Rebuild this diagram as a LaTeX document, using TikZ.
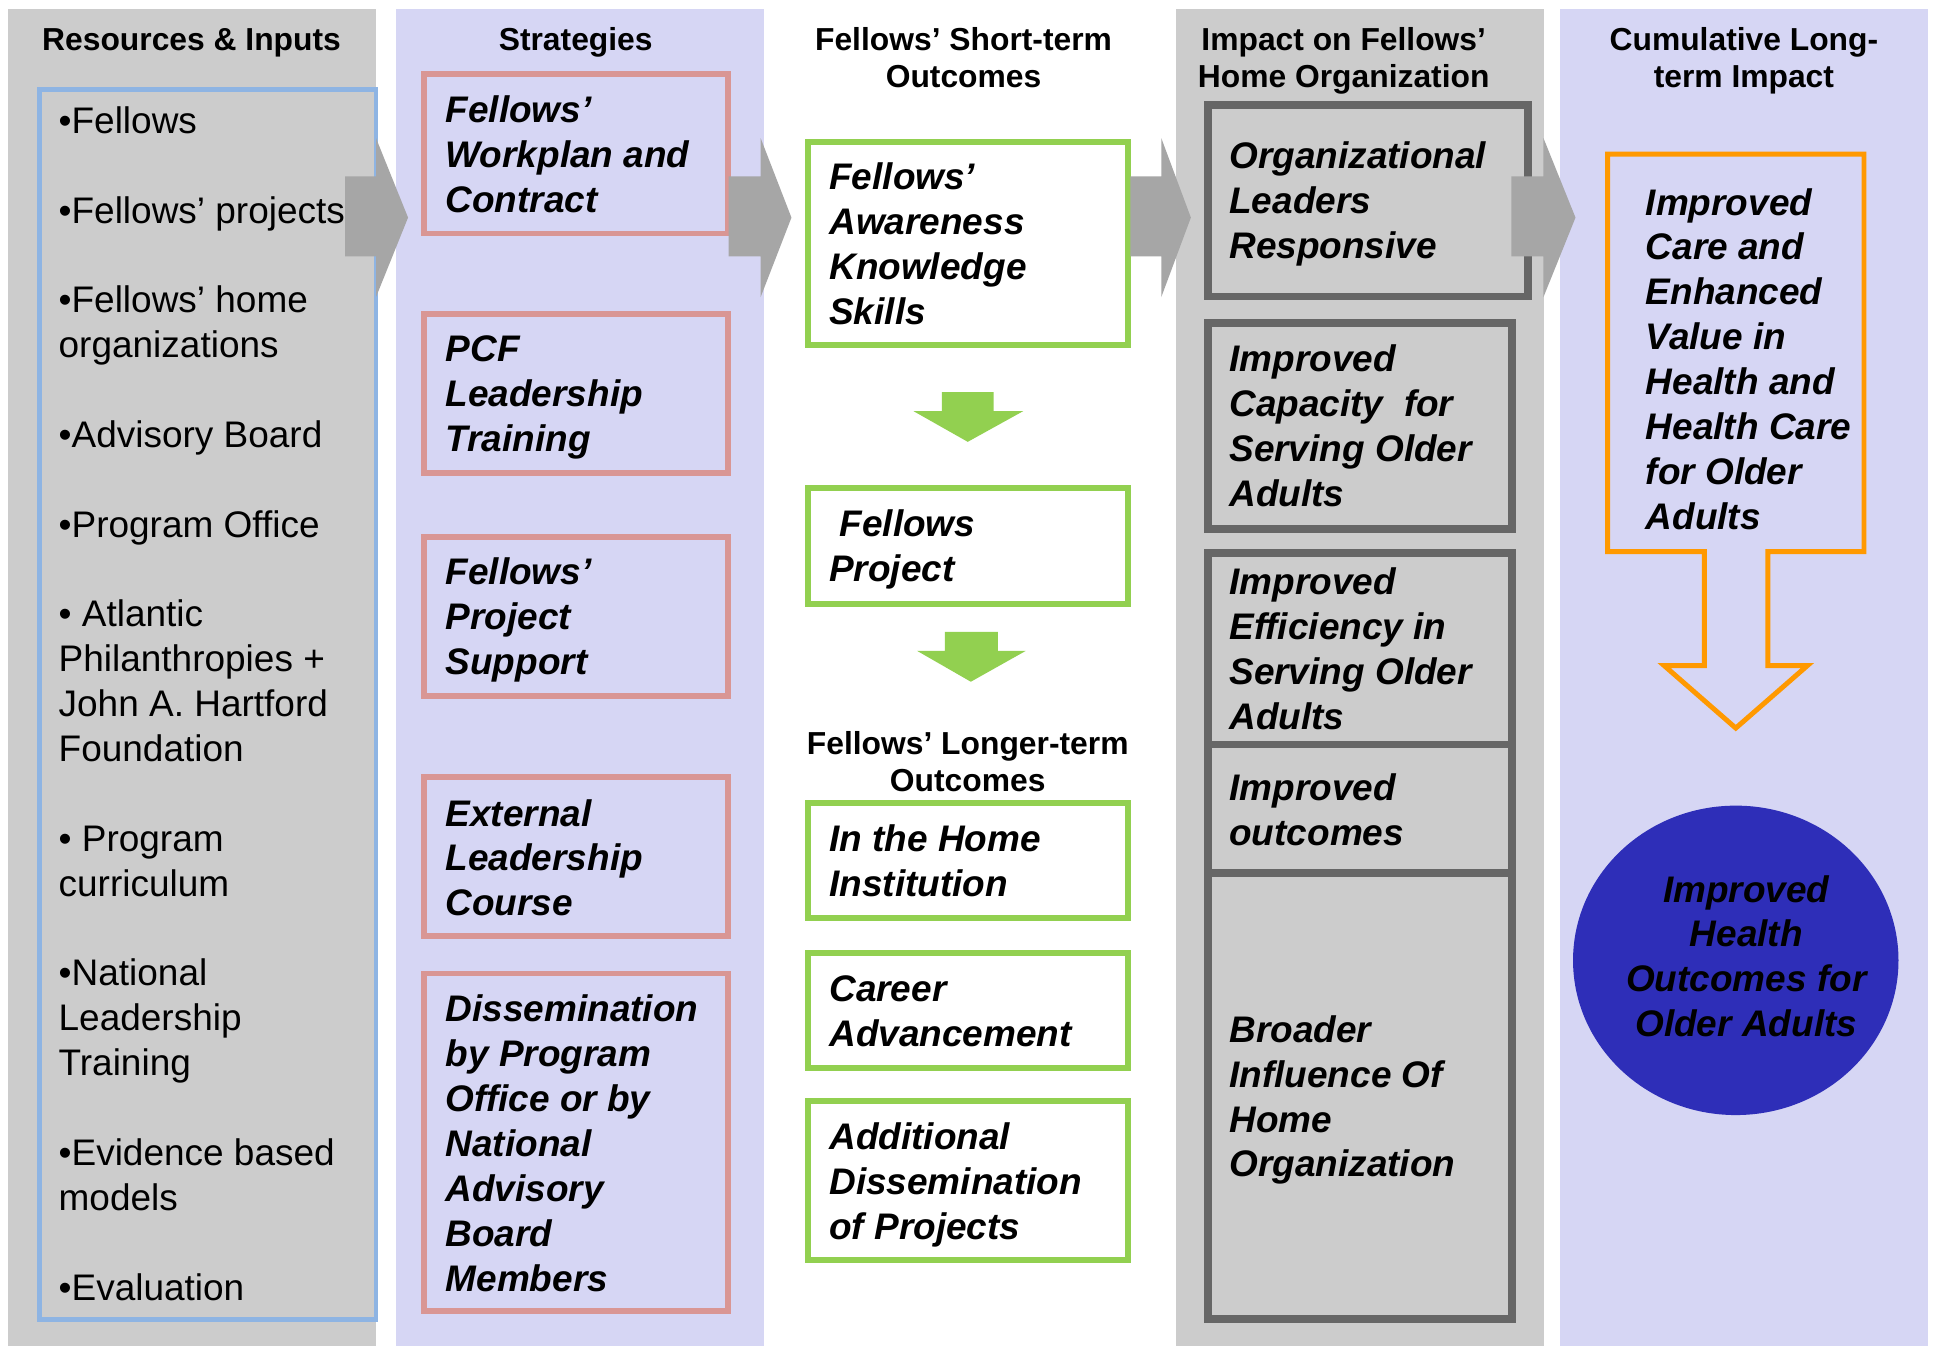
\documentclass[tikz,border=0pt]{standalone}
\usepackage{fontspec}
\setmainfont{Liberation Sans}
\usetikzlibrary{shapes.geometric}
\definecolor{bggray}{RGB}{204,204,204}
\definecolor{lav}{RGB}{214,214,244}
\definecolor{arrgray}{RGB}{166,166,166}
\definecolor{bluebox}{RGB}{142,180,227}
\definecolor{pinkbox}{RGB}{217,150,148}
\definecolor{greenbox}{RGB}{146,208,80}
\definecolor{darkbox}{RGB}{102,102,102}
\definecolor{orangebox}{RGB}{255,153,0}
\definecolor{ellblue}{RGB}{46,46,184}
\newcommand\lefttext[1]{\parbox[t]{500pt}{\raggedright #1}}
\newcommand\centertext[1]{\parbox[t]{500pt}{\centering #1}}
\tikzset{
  colbg/.style={draw=none, inner sep=0pt, outer sep=0pt, anchor=north west},
  frame/.style={inner sep=0pt, outer sep=0pt, anchor=north west},
  pinkframe/.style={frame, draw=pinkbox, line width=4.6pt, fill=lav},
  greenframe/.style={frame, draw=greenbox, line width=4.9pt, fill=white},
  darkframe/.style={frame, draw=darkbox, line width=6.3pt, fill=bggray},
  body/.style={inner sep=0pt, outer sep=0pt, anchor=base west, font=\fontsize{30}{36.4}\selectfont\bfseries\itshape},
  listtext/.style={inner sep=0pt, outer sep=0pt, anchor=base west, font=\fontsize{30}{36.4}\selectfont},
  headtext/.style={inner sep=0pt, outer sep=0pt, anchor=base, font=\fontsize{25.8}{30.5}\selectfont\bfseries},
  grayarrow/.style={fill=arrgray, draw=none},
  greenarrow/.style={fill=greenbox, draw=none},
}
\begin{document}
\begin{tikzpicture}[x=1pt, y=-1pt]
\useasboundingbox (0,0) rectangle (1568,1092);
\fill[white] (0,0) rectangle (1568,1092);
% column backgrounds
\node[colbg, fill=bggray, minimum width=298.4pt, minimum height=1084.7pt] (col1) at (6.6,7.3) {};
\node[colbg, fill=lav, minimum width=298.6pt, minimum height=1084.7pt] (col2) at (321,7.3) {};
\node[colbg, fill=bggray, minimum width=298.5pt, minimum height=1084.7pt] (col4) at (954,7.3) {};
\node[colbg, fill=lav, minimum width=298.5pt, minimum height=1084.7pt] (col5) at (1265.5,7.3) {};
% headers
\node[headtext] (h1) at (155.4,40.6) {\centertext{Resources \& Inputs}};
\node[headtext] (h2) at (467,40.6) {\centertext{Strategies}};
\node[headtext] (h3) at (781.6,40.6) {\centertext{Fellows’ Short-term\\Outcomes}};
\node[headtext] (h4) at (1090,40.6) {\centertext{Impact on Fellows’\\Home Organization}};
\node[headtext] (h5) at (1414.6,40.6) {\centertext{Cumulative Long-\\term Impact}};
\node[headtext] (h6) at (785,611.7) {\centertext{Fellows’ Longer-term\\Outcomes}};
% column 1
\node[frame, draw=bluebox, line width=4pt, minimum width=272.7pt, minimum height=998pt] (res) at (32.3,72.5) {};
\node[listtext] (restext) at (47.6,108.2) {\lefttext{•Fellows\\[36.4pt]
•Fellows’ projects\\[36.4pt]
•Fellows’ home\\organizations\\[36.4pt]
•Advisory Board\\[36.4pt]
•Program Office\\[36.4pt]
• Atlantic\\Philanthropies +\\John A. Hartford\\Foundation\\[36.4pt]
• Program\\curriculum\\[36.4pt]
•National\\Leadership\\Training\\[36.4pt]
•Evidence based\\models\\[36.4pt]
•Evaluation}};
% column 2
\node[pinkframe, minimum width=246.4pt, minimum height=129.1pt] (s1) at (344,60.2) {};
\node[pinkframe, minimum width=246.4pt, minimum height=128.9pt] (s2) at (344,254.6) {};
\node[pinkframe, minimum width=246.4pt, minimum height=129pt] (s3) at (344,435.7) {};
\node[pinkframe, minimum width=246.4pt, minimum height=128.9pt] (s4) at (344,630.5) {};
\node[pinkframe, minimum width=246.4pt, minimum height=273.8pt] (s5) at (344,789.8) {};
\node[body] (s1t) at (361.5,99.5) {\lefttext{Fellows’\\Workplan and\\Contract}};
\node[body] (s2t) at (361.5,293.4) {\lefttext{PCF\\Leadership\\Training}};
\node[body] (s3t) at (361.5,474.5) {\lefttext{Fellows’\\Project\\Support}};
\node[body] (s4t) at (361.5,670.1) {\lefttext{External\\Leadership\\Course}};
\node[body] (s5t) at (361.5,829) {\lefttext{Dissemination\\by Program\\Office or by\\National\\Advisory\\Board\\Members}};
% column 3
\node[greenframe, minimum width=259.5pt, minimum height=164pt] (g1) at (655.5,115.5) {};
\node[greenframe, minimum width=259.5pt, minimum height=94pt] (g2) at (655.5,396) {};
\node[greenframe, minimum width=259.5pt, minimum height=93.1pt] (g3) at (655.5,651.4) {};
\node[greenframe, minimum width=259.5pt, minimum height=93.2pt] (g4) at (655.5,773) {};
\node[greenframe, minimum width=259.5pt, minimum height=129pt] (g5) at (655.5,893.3) {};
\node[body] (g1t) at (672.7,154) {\lefttext{Fellows’\\Awareness\\Knowledge\\Skills}};
\node[body] (g2t) at (672.7,435.3) {\lefttext{\hspace*{0.278em}Fellows\\Project}};
\node[body] (g3t) at (672.7,690.8) {\lefttext{In the Home\\Institution}};
\node[body] (g4t) at (672.7,812.5) {\lefttext{Career\\Advancement}};
\node[body] (g5t) at (672.7,932.3) {\lefttext{Additional\\Dissemination\\of Projects}};
\fill[greenarrow] (764,318) -- (806,318) -- (806,333.5) -- (830,333.5) -- (785,358.4) -- (741,333.5) -- (764,333.5) -- cycle;
\fill[greenarrow] (766.5,512.5) -- (809.5,512.5) -- (809.5,528) -- (832,528) -- (787.5,553) -- (744,528) -- (766.5,528) -- cycle;
% column 4
\node[darkframe, minimum width=259.5pt, minimum height=155.5pt] (o1) at (980,85) {};
\node[darkframe, minimum width=246.5pt, minimum height=166.7pt] (o2) at (980,262.3) {};
\node[darkframe, minimum width=246.5pt, minimum height=155.2pt] (o3) at (980,448.8) {};
\node[darkframe, minimum width=246.5pt, minimum height=104pt] (o4) at (980,604) {};
\node[darkframe, minimum width=246.5pt, minimum height=362pt] (o5) at (980,708) {};
\node[body] (o1t) at (997.2,136.5) {\lefttext{Organizational\\Leaders\\Responsive}};
\node[body] (o2t) at (997.2,301.5) {\lefttext{Improved\\Capacity\ \ for\\Serving Older\\Adults}};
\node[body] (o3t) at (997.2,482.6) {\lefttext{Improved\\Efficiency in\\Serving Older\\Adults}};
\node[body] (o4t) at (997.2,649.6) {\lefttext{Improved\\outcomes}};
\node[body] (o5t) at (997.2,845.5) {\lefttext{Broader\\Influence Of\\Home\\Organization}};
% column 5
\draw[draw=orangebox, line width=4pt, fill=lav] (1304,125) -- (1512,125) -- (1512,447.5) -- (1434,447.5) -- (1434,540) -- (1466,540) -- (1408,590.6) -- (1350,540) -- (1382.5,540) -- (1382.5,447.5) -- (1304,447.5) -- cycle;
\node[body] (c1t) at (1335,174.4) {\lefttext{Improved\\Care and\\Enhanced\\Value in\\Health and\\Health Care\\for Older\\Adults}};
\node[ellipse, fill=ellblue, draw=none, inner sep=0pt, minimum width=264pt, minimum height=251pt] (ell) at (1408,779) {};
\node[body, anchor=base] (ellt) at (1416.5,731.7) {\centertext{Improved\\Health\\Outcomes for\\Older Adults}};
% gray block arrows between columns
\fill[grayarrow] (280,143) -- (305,143) -- (305,112) -- (331,176.5) -- (305,241) -- (305,208) -- (280,208) -- cycle;
\fill[grayarrow] (591,143) -- (617,143) -- (617,112) -- (642,176.5) -- (617,241) -- (617,208) -- (591,208) -- cycle;
\fill[grayarrow] (917,143) -- (942,143) -- (942,112) -- (966,176.5) -- (942,241) -- (942,208) -- (917,208) -- cycle;
\fill[grayarrow] (1226,143) -- (1252,143) -- (1252,112) -- (1278,176.5) -- (1252,241) -- (1252,208) -- (1226,208) -- cycle;
\end{tikzpicture}
\end{document}
